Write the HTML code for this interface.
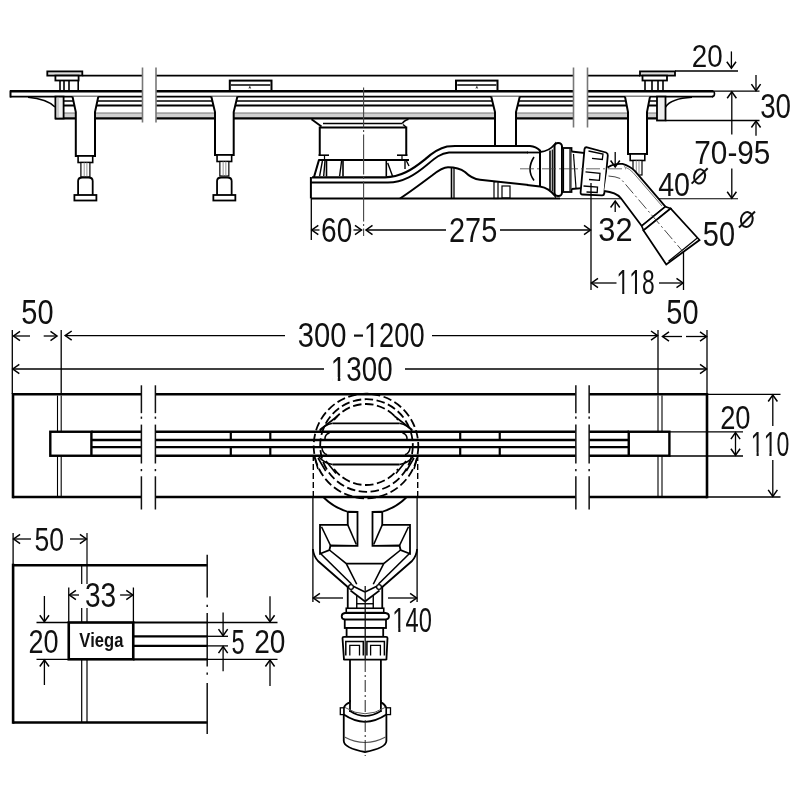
<!DOCTYPE html>
<html><head><meta charset="utf-8"><style>
html,body{margin:0;padding:0;background:#fff;}
svg{display:block;will-change:transform;}
text{font-family:"Liberation Sans",sans-serif;font-kerning:none;}
</style></head><body>
<svg width="800" height="800" viewBox="0 0 800 800">
<rect width="800" height="800" fill="#fff"/>
<rect x="63" y="113" width="79.5" height="4.5" fill="#d0d0d0"/>
<rect x="156" y="113" width="417.5" height="4.5" fill="#d0d0d0"/>
<rect x="587.5" y="113" width="69.5" height="4.5" fill="#d0d0d0"/>
<line x1="82.5" y1="75.6" x2="142.5" y2="75.6" stroke="#000" stroke-width="1.6" />
<line x1="156" y1="75.6" x2="573.5" y2="75.6" stroke="#000" stroke-width="1.6" />
<line x1="587.5" y1="75.6" x2="640" y2="75.6" stroke="#000" stroke-width="1.6" />
<line x1="10" y1="91.3" x2="142.5" y2="91.3" stroke="#000" stroke-width="2.6" />
<line x1="156" y1="91.3" x2="573.5" y2="91.3" stroke="#000" stroke-width="2.6" />
<line x1="587.5" y1="91.3" x2="713" y2="91.3" stroke="#000" stroke-width="2.6" />
<line x1="10" y1="96.6" x2="142.5" y2="96.6" stroke="#000" stroke-width="1.8" />
<line x1="156" y1="96.6" x2="573.5" y2="96.6" stroke="#000" stroke-width="1.8" />
<line x1="587.5" y1="96.6" x2="713" y2="96.6" stroke="#000" stroke-width="1.8" />
<line x1="63" y1="101.1" x2="142.5" y2="101.1" stroke="#000" stroke-width="1.5" />
<line x1="156" y1="101.1" x2="573.5" y2="101.1" stroke="#000" stroke-width="1.5" />
<line x1="587.5" y1="101.1" x2="657" y2="101.1" stroke="#000" stroke-width="1.5" />
<line x1="63" y1="105.5" x2="142.5" y2="105.5" stroke="#000" stroke-width="1.8" />
<line x1="156" y1="105.5" x2="573.5" y2="105.5" stroke="#000" stroke-width="1.8" />
<line x1="587.5" y1="105.5" x2="657" y2="105.5" stroke="#000" stroke-width="1.8" />
<line x1="63" y1="113" x2="142.5" y2="113" stroke="#777" stroke-width="1.2" />
<line x1="156" y1="113" x2="573.5" y2="113" stroke="#777" stroke-width="1.2" />
<line x1="587.5" y1="113" x2="657" y2="113" stroke="#777" stroke-width="1.2" />
<line x1="55" y1="118.4" x2="142.5" y2="118.4" stroke="#000" stroke-width="2.4" />
<line x1="156" y1="118.4" x2="573.5" y2="118.4" stroke="#000" stroke-width="2.4" />
<line x1="587.5" y1="118.4" x2="666" y2="118.4" stroke="#000" stroke-width="2.4" />
<line x1="10.5" y1="90.5" x2="10.5" y2="97.5" stroke="#000" stroke-width="2" />
<line x1="142.5" y1="67.5" x2="142.5" y2="122.5" stroke="#777" stroke-width="1.6" />
<line x1="156" y1="67.5" x2="156" y2="122.5" stroke="#777" stroke-width="1.6" />
<line x1="573.5" y1="67.5" x2="573.5" y2="127.5" stroke="#777" stroke-width="1.6" />
<line x1="587.5" y1="67.5" x2="587.5" y2="127.5" stroke="#777" stroke-width="1.6" />
<path d="M712,91 Q714.5,91 714.5,93.8 Q714.5,96.6 712,96.6" stroke="#000" stroke-width="1.6" fill="none" />
<rect x="47.3" y="71.4" width="35.0" height="4.199999999999989" stroke="#000" stroke-width="1.8" fill="#ddd" />
<rect x="55.4" y="75.6" width="23.199999999999996" height="4.900000000000006" stroke="#000" stroke-width="1.8" fill="#fff" />
<line x1="60" y1="80.5" x2="60" y2="90.5" stroke="#000" stroke-width="1.6" />
<line x1="64" y1="80.5" x2="64" y2="90.5" stroke="#000" stroke-width="1.6" />
<line x1="69" y1="80.5" x2="69" y2="90.5" stroke="#000" stroke-width="1.6" />
<line x1="78.2" y1="80.5" x2="78.2" y2="90.5" stroke="#000" stroke-width="1.6" />
<rect x="640" y="71.4" width="35" height="4.199999999999989" stroke="#000" stroke-width="1.8" fill="#ddd" />
<rect x="642.5" y="75.6" width="24.5" height="4.900000000000006" stroke="#000" stroke-width="1.8" fill="#fff" />
<line x1="645" y1="80.5" x2="645" y2="90.5" stroke="#000" stroke-width="1.6" />
<line x1="652" y1="80.5" x2="652" y2="90.5" stroke="#000" stroke-width="1.6" />
<line x1="658" y1="80.5" x2="658" y2="90.5" stroke="#000" stroke-width="1.6" />
<line x1="663" y1="80.5" x2="663" y2="90.5" stroke="#000" stroke-width="1.6" />
<rect x="229.8" y="80.6" width="41.69999999999999" height="10.400000000000006" stroke="#000" stroke-width="2" fill="#fff" />
<line x1="231" y1="85" x2="270.3" y2="85" stroke="#000" stroke-width="1.5" />
<rect x="456" y="80.6" width="41.5" height="10.400000000000006" stroke="#000" stroke-width="2" fill="#fff" />
<line x1="457.2" y1="85" x2="496.3" y2="85" stroke="#000" stroke-width="1.5" />
<path d="M249,88.5 L249.8,86.5 L250.6,88.5" stroke="#000" stroke-width="0.8" fill="none" />
<path d="M476,88.5 L476.8,86.5 L477.6,88.5" stroke="#000" stroke-width="0.8" fill="none" />
<rect x="55.4" y="96.6" width="8.200000000000003" height="21.900000000000006" stroke="#000" stroke-width="1.8" fill="#eee" />
<line x1="58" y1="97" x2="58" y2="118" stroke="#999" stroke-width="0.8" />
<path d="M28,97.3 Q47,99 55,107" stroke="#000" stroke-width="1.6" fill="none" />
<rect x="657" y="96.6" width="8.5" height="23.900000000000006" stroke="#000" stroke-width="1.8" fill="#eee" />
<path d="M665.5,107 Q671,98.5 692,97.3" stroke="#000" stroke-width="1.6" fill="none" />
<path d="M72.5,96.6 L75.8,112 L75.8,156 L95,156 L95,112 L98.3,96.6" stroke="#000" stroke-width="2" fill="#fff" />
<rect x="78.10000000000001" y="156" width="14.599999999999994" height="6.5" stroke="#000" stroke-width="1.6" fill="#fff" />
<rect x="80.9" y="162.5" width="9.0" height="14.5" stroke="#000" stroke-width="1.2" fill="#fff" />
<line x1="84.2" y1="162.5" x2="84.2" y2="177" stroke="#888" stroke-width="0.9" />
<line x1="86.9" y1="162.5" x2="86.9" y2="177" stroke="#888" stroke-width="0.9" />
<path d="M78.10000000000001,195 L78.10000000000001,181 Q78.10000000000001,177.5 82.4,177.5 L88.4,177.5 Q92.7,177.5 92.7,181 L92.7,195" stroke="#000" stroke-width="1.8" fill="#fff" />
<rect x="74.4" y="195" width="22.0" height="5.5" stroke="#000" stroke-width="1.8" fill="#fff" />
<path d="M211.3,96.6 L215,112 L215,155 L233.7,155 L233.7,112 L237.39999999999998,96.6" stroke="#000" stroke-width="2" fill="#fff" />
<rect x="217.04999999999998" y="155" width="14.600000000000023" height="6.5" stroke="#000" stroke-width="1.6" fill="#fff" />
<rect x="219.85" y="161.5" width="9.0" height="14.5" stroke="#000" stroke-width="1.2" fill="#fff" />
<line x1="223.15" y1="161.5" x2="223.15" y2="176" stroke="#888" stroke-width="0.9" />
<line x1="225.85" y1="161.5" x2="225.85" y2="176" stroke="#888" stroke-width="0.9" />
<path d="M217.04999999999998,195 L217.04999999999998,181 Q217.04999999999998,177.5 221.35,177.5 L227.35,177.5 Q231.65,177.5 231.65,181 L231.65,195" stroke="#000" stroke-width="1.8" fill="#fff" />
<rect x="213.35" y="195" width="22.0" height="5.5" stroke="#000" stroke-width="1.8" fill="#fff" />
<path d="M491.2,96.6 L495,112 L495,146 L516,146 L516,112 L519.8,96.6" stroke="#000" stroke-width="2" fill="#fff" />
<path d="M625,96.6 L628,112 L628,154 L647,154 L647,112 L650,96.6" stroke="#000" stroke-width="2" fill="#fff" />
<rect x="630.2" y="154" width="14.599999999999909" height="6.5" stroke="#000" stroke-width="1.6" fill="#fff" />
<rect x="633.0" y="160.5" width="9.0" height="14.5" stroke="#000" stroke-width="1.2" fill="#fff" />
<line x1="636.3" y1="160.5" x2="636.3" y2="175" stroke="#888" stroke-width="0.9" />
<line x1="639.0" y1="160.5" x2="639.0" y2="175" stroke="#888" stroke-width="0.9" />
<path d="M311.5,119.3 L321.5,126.5" stroke="#000" stroke-width="1.9" fill="none" />
<line x1="323" y1="123.4" x2="402.5" y2="123.4" stroke="#000" stroke-width="1.5" />
<path d="M402.5,123.4 Q403.5,121 408.5,119.3" stroke="#000" stroke-width="1.6" fill="none" />
<path d="M403,124.5 L406,127" stroke="#000" stroke-width="1.5" fill="none" />
<path d="M319.75,155.2 L319.75,127.5 L406.25,127.5 L406.25,155.2" stroke="#000" stroke-width="2" fill="none" />
<line x1="318.5" y1="155.2" x2="329" y2="155.2" stroke="#000" stroke-width="1.6" />
<line x1="397" y1="155.2" x2="407.5" y2="155.2" stroke="#000" stroke-width="1.6" />
<line x1="324.5" y1="155.2" x2="324.5" y2="159" stroke="#000" stroke-width="1.2" />
<line x1="402" y1="155.2" x2="402" y2="159" stroke="#000" stroke-width="1.2" />
<path d="M318.3,159.9 L409,159.9" stroke="#000" stroke-width="2" fill="none" />
<path d="M319,159.9 L314,177" stroke="#000" stroke-width="2" fill="none" />
<line x1="326.5" y1="160.5" x2="326.5" y2="176.5" stroke="#000" stroke-width="1.6" />
<line x1="343" y1="160.5" x2="343" y2="176.5" stroke="#000" stroke-width="1.6" />
<line x1="386.3" y1="160.5" x2="386.3" y2="176.5" stroke="#000" stroke-width="1.6" />
<line x1="405" y1="160.5" x2="405" y2="169" stroke="#000" stroke-width="1.4" />
<line x1="322.4" y1="161" x2="319.6" y2="176" stroke="#000" stroke-width="1.4" />
<line x1="325" y1="161" x2="323.7" y2="176" stroke="#000" stroke-width="1.4" />
<line x1="341.6" y1="161" x2="339.6" y2="176" stroke="#000" stroke-width="1.4" />
<line x1="387.7" y1="163" x2="392.5" y2="176" stroke="#000" stroke-width="1.4" />
<line x1="406.5" y1="161" x2="409" y2="166" stroke="#000" stroke-width="1.4" />
<path d="M312,177.3 L385,177.3 C400,177.3 412,170 425,159.4 C432,153 438,148.5 447,146.5 L455,146 L538,146" stroke="#000" stroke-width="2.2" fill="none" />
<path d="M311,182.5 L388,182.5 C403,182.5 415,175 428,164 C435,158 440,153.5 449,152.5 L538,152.5" stroke="#000" stroke-width="1.8" fill="none" />
<path d="M400,198.5 C410,192 422,183 432,175.5 C439,170 443,167.3 448,167.3 C455,167.3 461,169 465,172 C469,176 473,179 480,179.8 L538,186" stroke="#000" stroke-width="2" fill="none" />
<line x1="451.5" y1="167.3" x2="451.5" y2="198.5" stroke="#000" stroke-width="1.6" />
<line x1="454" y1="167.6" x2="454" y2="198.5" stroke="#000" stroke-width="1.3" />
<rect x="494" y="182" width="4" height="16.5" stroke="#000" stroke-width="1.2" fill="#fff" />
<rect x="502" y="186" width="8" height="12" stroke="#000" stroke-width="1.2" fill="#fff" />
<line x1="310.9" y1="177" x2="310.9" y2="198.5" stroke="#000" stroke-width="2" />
<line x1="310.9" y1="198.5" x2="560" y2="198.5" stroke="#000" stroke-width="2.2" />
<line x1="560" y1="198.7" x2="738" y2="198.7" stroke="#000" stroke-width="1.1" />
<rect x="528" y="144" width="12" height="44" fill="#fff"/>
<path d="M527,146 L530,146 Q536,146.5 540,150.5" stroke="#000" stroke-width="2.2" fill="none" />
<line x1="527" y1="152.5" x2="540" y2="152.5" stroke="#000" stroke-width="1.8" />
<path d="M527,185.1 L540,186.6" stroke="#000" stroke-width="2" fill="none" />
<path d="M534,157 Q526,169.5 534,180.5" stroke="#000" stroke-width="1.6" fill="none" />
<path d="M540,152 Q549,151.5 555,144 L555,196 Q549,188 540,186.5" stroke="#000" stroke-width="1.8" fill="#fff" />
<line x1="540" y1="150" x2="540" y2="187" stroke="#000" stroke-width="2" />
<line x1="550" y1="150.5" x2="550" y2="190" stroke="#000" stroke-width="1.6" />
<line x1="552.3" y1="149.5" x2="552.3" y2="191.5" stroke="#000" stroke-width="1.2" />
<rect x="554.5" y="143" width="7.5" height="53" rx="3.5" stroke="#000" stroke-width="2" fill="#fff"/>
<rect x="562" y="148" width="9.5" height="44" stroke="#000" stroke-width="1.8" fill="#fff" />
<line x1="563.5" y1="148.5" x2="563.5" y2="191.5" stroke="#000" stroke-width="1.2" />
<line x1="570" y1="148.5" x2="570" y2="191.5" stroke="#000" stroke-width="1.2" />
<path d="M571.5,151.5 L585,153 L585,188 L571.5,189" stroke="#000" stroke-width="1.8" fill="#fff" />
<line x1="573.5" y1="154" x2="576" y2="188" stroke="#000" stroke-width="1.2" />
<path d="M587,147.3 L606,152.5 Q608,153.4 607.8,155.5 L604.3,193.5 Q604,195.4 602,195.3 L582.5,194.5 Q580.4,194.4 580.6,192.3 L584.5,149 Q585,147 587,147.3 Z" stroke="#000" stroke-width="1.8" fill="#fff" />
<path d="M588.5,151 L603,154 L602.3,159.5 L592,158.3" stroke="#000" stroke-width="1.3" fill="none" />
<path d="M585.5,171.8 L600,173.4 L599.4,180.4 L589,179.5" stroke="#000" stroke-width="1.3" fill="none" />
<path d="M583.5,186 L597.5,187 L597.2,192.5 L586.5,192" stroke="#000" stroke-width="1.3" fill="none" />
<path d="M607.6,167.4 Q614,163.2 622.5,163.9 Q630,166 634.75,170.9 L665.4,206.75 L641.75,226 L620.75,198 Q616,192.3 604.1,191" stroke="#000" stroke-width="1.8" fill="#fff" />
<path d="M624,166.5 Q630,169 633,172.5 L662,206" stroke="#666" stroke-width="0.9" fill="none" />
<path d="M641.75,226 L665.4,206.75 L670.6,208.5 L643.5,230.4 Z" stroke="#000" stroke-width="1.6" fill="#fff" />
<path d="M643.5,230.4 L670.6,208.5 L699.5,240 L666.25,264.5 Z" stroke="#000" stroke-width="1.8" fill="#fff" />
<line x1="668.5" y1="261.3" x2="697" y2="238.3" stroke="#000" stroke-width="1.2" />
<path d="M608.5,176 Q616,176.5 620.75,178.75 L682,250.5" stroke="#333" stroke-width="0.9" fill="none" stroke-dasharray="12,3,2,3"/>
<line x1="363.6" y1="87.5" x2="363.6" y2="236" stroke="#444" stroke-width="1.1" stroke-dasharray="40,2.5,2,2.5"/>
<line x1="520" y1="168.8" x2="626" y2="168.8" stroke="#444" stroke-width="0.8" stroke-dasharray="14,3,2,3"/>
<line x1="311.3" y1="199" x2="311.3" y2="240" stroke="#000" stroke-width="1.3" />
<line x1="319.5" y1="230" x2="311.8" y2="230" stroke="#000" stroke-width="1.3" />
<path d="M318.30,225.40 L311.8,230 L318.30,234.60" stroke="#000" stroke-width="1.5" fill="none" />
<line x1="353.5" y1="230" x2="361.5" y2="230" stroke="#000" stroke-width="1.3" />
<path d="M355.00,234.60 L361.5,230 L355.00,225.40" stroke="#000" stroke-width="1.5" fill="none" />
<line x1="446" y1="230" x2="366" y2="230" stroke="#000" stroke-width="1.3" />
<path d="M372.50,225.40 L366,230 L372.50,234.60" stroke="#000" stroke-width="1.5" fill="none" />
<line x1="500" y1="230" x2="590.5" y2="230" stroke="#000" stroke-width="1.3" />
<path d="M584.00,234.60 L590.5,230 L584.00,225.40" stroke="#000" stroke-width="1.5" fill="none" />
<g transform="matrix(0.8047,0,0,1,321.10,242.00)"><text x="0" y="0" font-size="34.86" font-weight="normal" fill="#111">60</text></g>
<g transform="matrix(0.8254,0,0,1,449.06,241.50)"><text x="0" y="0" font-size="35.00" font-weight="normal" fill="#111">275</text></g>
<line x1="591" y1="183" x2="591" y2="290" stroke="#000" stroke-width="1.3" />
<line x1="683.5" y1="251" x2="683.5" y2="290" stroke="#000" stroke-width="1.3" />
<line x1="616.5" y1="283" x2="591.5" y2="283" stroke="#000" stroke-width="1.3" />
<path d="M598.00,278.40 L591.5,283 L598.00,287.60" stroke="#000" stroke-width="1.5" fill="none" />
<line x1="659" y1="283" x2="683" y2="283" stroke="#000" stroke-width="1.3" />
<path d="M676.50,287.60 L683,283 L676.50,278.40" stroke="#000" stroke-width="1.5" fill="none" />
<g transform="matrix(0.6438,0,0,1,616.53,294.40)"><text x="0" y="0" font-size="35.43" font-weight="normal" fill="#111">118</text><rect x="1.77" y="-3.54" width="7.05" height="4.96" fill="#fff"/><rect x="12.08" y="-3.54" width="6.87" height="4.96" fill="#fff"/><rect x="21.47" y="-3.54" width="7.05" height="4.96" fill="#fff"/><rect x="31.78" y="-3.54" width="6.87" height="4.96" fill="#fff"/></g>
<line x1="615.2" y1="152" x2="615.2" y2="167" stroke="#000" stroke-width="1.3" />
<path d="M610.60,160.50 L615.2,167 L619.80,160.50" stroke="#000" stroke-width="1.5" fill="none" />
<line x1="615.2" y1="212" x2="615.2" y2="201" stroke="#000" stroke-width="1.3" />
<path d="M619.80,207.50 L615.2,201 L610.60,207.50" stroke="#000" stroke-width="1.5" fill="none" />
<g transform="matrix(0.9092,0,0,1,598.37,241.00)"><text x="0" y="0" font-size="33.86" font-weight="normal" fill="#111">32</text></g>
<g transform="matrix(0.8505,0,0,1,658.18,196.30)"><text x="0" y="0" font-size="33.71" font-weight="normal" fill="#111">40</text></g>
<ellipse cx="699.6" cy="176.4" rx="5.4" ry="7.2" stroke="#111" stroke-width="2" fill="none" transform="rotate(12 699.6 176.4)"/>
<line x1="691.6" y1="183.6" x2="707.7" y2="168.3" stroke="#111" stroke-width="2" />
<g transform="matrix(0.8116,0,0,1,702.84,245.50)"><text x="0" y="0" font-size="35.71" font-weight="normal" fill="#111">50</text></g>
<ellipse cx="746.8" cy="219.5" rx="5.8" ry="7.5" stroke="#111" stroke-width="2" fill="none" transform="rotate(12 746.8 219.5)"/>
<line x1="739" y1="227.5" x2="755" y2="211.5" stroke="#111" stroke-width="2" />
<line x1="731.8" y1="134.6" x2="731.8" y2="91.8" stroke="#000" stroke-width="1.3" />
<path d="M736.40,98.30 L731.8,91.8 L727.20,98.30" stroke="#000" stroke-width="1.5" fill="none" />
<line x1="731.8" y1="168.4" x2="731.8" y2="198.2" stroke="#000" stroke-width="1.3" />
<path d="M727.20,191.70 L731.8,198.2 L736.40,191.70" stroke="#000" stroke-width="1.5" fill="none" />
<g transform="matrix(0.8721,0,0,1,694.31,164.20)"><text x="0" y="0" font-size="34.14" font-weight="normal" fill="#111">70-95</text></g>
<line x1="756" y1="75" x2="756" y2="90.6" stroke="#000" stroke-width="1.3" />
<path d="M751.40,84.10 L756,90.6 L760.60,84.10" stroke="#000" stroke-width="1.5" fill="none" />
<line x1="756" y1="135.7" x2="756" y2="121" stroke="#000" stroke-width="1.3" />
<path d="M760.60,127.50 L756,121 L751.40,127.50" stroke="#000" stroke-width="1.5" fill="none" />
<g transform="matrix(0.7778,0,0,1,760.14,117.50)"><text x="0" y="0" font-size="35.71" font-weight="normal" fill="#111">30</text></g>
<g transform="matrix(0.8650,0,0,1,691.86,67.00)"><text x="0" y="0" font-size="32.14" font-weight="normal" fill="#111">20</text></g>
<line x1="731.4" y1="51.4" x2="731.4" y2="68.2" stroke="#000" stroke-width="1.3" />
<path d="M726.80,61.70 L731.4,68.2 L736.00,61.70" stroke="#000" stroke-width="1.5" fill="none" />
<line x1="675" y1="71" x2="738" y2="71" stroke="#000" stroke-width="1.3" />
<line x1="713" y1="91.2" x2="759.5" y2="91.2" stroke="#000" stroke-width="1.3" />
<line x1="665.5" y1="120.5" x2="759.5" y2="120.5" stroke="#000" stroke-width="1.3" />
<line x1="13" y1="394.3" x2="141.7" y2="394.3" stroke="#000" stroke-width="2.6" />
<line x1="13" y1="497" x2="141.7" y2="497" stroke="#000" stroke-width="2.6" />
<line x1="155.3" y1="394.3" x2="575.6" y2="394.3" stroke="#000" stroke-width="2.6" />
<line x1="155.3" y1="497" x2="575.6" y2="497" stroke="#000" stroke-width="2.6" />
<line x1="589.1" y1="394.3" x2="707" y2="394.3" stroke="#000" stroke-width="2.6" />
<line x1="589.1" y1="497" x2="707" y2="497" stroke="#000" stroke-width="2.6" />
<line x1="13" y1="393.1" x2="13" y2="498.3" stroke="#000" stroke-width="2.6" />
<line x1="707" y1="393.1" x2="707" y2="498.3" stroke="#000" stroke-width="2.6" />
<line x1="57.5" y1="395.5" x2="57.5" y2="496" stroke="#000" stroke-width="1.1" />
<line x1="61.2" y1="395.5" x2="61.2" y2="496" stroke="#000" stroke-width="1.1" />
<line x1="658" y1="395.5" x2="658" y2="496" stroke="#000" stroke-width="1.1" />
<line x1="662" y1="395.5" x2="662" y2="496" stroke="#000" stroke-width="1.1" />
<line x1="91.4" y1="431.75" x2="141.7" y2="431.75" stroke="#000" stroke-width="2.4" />
<line x1="155.3" y1="431.75" x2="575.6" y2="431.75" stroke="#000" stroke-width="2.4" />
<line x1="589.1" y1="431.75" x2="629" y2="431.75" stroke="#000" stroke-width="2.4" />
<line x1="91.4" y1="440.0" x2="141.7" y2="440.0" stroke="#000" stroke-width="2.4" />
<line x1="155.3" y1="440.0" x2="575.6" y2="440.0" stroke="#000" stroke-width="2.4" />
<line x1="589.1" y1="440.0" x2="629" y2="440.0" stroke="#000" stroke-width="2.4" />
<line x1="91.4" y1="447.1" x2="141.7" y2="447.1" stroke="#000" stroke-width="2.4" />
<line x1="155.3" y1="447.1" x2="575.6" y2="447.1" stroke="#000" stroke-width="2.4" />
<line x1="589.1" y1="447.1" x2="629" y2="447.1" stroke="#000" stroke-width="2.4" />
<line x1="91.4" y1="455.75" x2="141.7" y2="455.75" stroke="#000" stroke-width="2.4" />
<line x1="155.3" y1="455.75" x2="575.6" y2="455.75" stroke="#000" stroke-width="2.4" />
<line x1="589.1" y1="455.75" x2="629" y2="455.75" stroke="#000" stroke-width="2.4" />
<line x1="230.8" y1="432.5" x2="230.8" y2="439.5" stroke="#000" stroke-width="2.2" />
<line x1="230.8" y1="447.5" x2="230.8" y2="455" stroke="#000" stroke-width="2.2" />
<line x1="270.3" y1="432.5" x2="270.3" y2="439.5" stroke="#000" stroke-width="2.2" />
<line x1="270.3" y1="447.5" x2="270.3" y2="455" stroke="#000" stroke-width="2.2" />
<line x1="460.2" y1="432.5" x2="460.2" y2="439.5" stroke="#000" stroke-width="2.2" />
<line x1="460.2" y1="447.5" x2="460.2" y2="455" stroke="#000" stroke-width="2.2" />
<line x1="499.75" y1="432.5" x2="499.75" y2="439.5" stroke="#000" stroke-width="2.2" />
<line x1="499.75" y1="447.5" x2="499.75" y2="455" stroke="#000" stroke-width="2.2" />
<rect x="50.3" y="431.75" width="41.10000000000001" height="24.0" stroke="#000" stroke-width="2.4" fill="#fff" />
<rect x="628.75" y="431.75" width="40.64999999999998" height="24.0" stroke="#000" stroke-width="2.4" fill="#fff" />
<line x1="141.4" y1="385.3" x2="141.4" y2="413.2" stroke="#111" stroke-width="1.5" />
<line x1="141.4" y1="416.6" x2="141.4" y2="418.8" stroke="#111" stroke-width="1.5" />
<line x1="141.4" y1="424.6" x2="141.4" y2="463.5" stroke="#111" stroke-width="1.5" />
<line x1="141.4" y1="469" x2="141.4" y2="471.2" stroke="#111" stroke-width="1.5" />
<line x1="141.4" y1="476.3" x2="141.4" y2="509.5" stroke="#111" stroke-width="1.5" />
<line x1="155.4" y1="385.3" x2="155.4" y2="413.2" stroke="#111" stroke-width="1.5" />
<line x1="155.4" y1="416.6" x2="155.4" y2="418.8" stroke="#111" stroke-width="1.5" />
<line x1="155.4" y1="424.6" x2="155.4" y2="463.5" stroke="#111" stroke-width="1.5" />
<line x1="155.4" y1="469" x2="155.4" y2="471.2" stroke="#111" stroke-width="1.5" />
<line x1="155.4" y1="476.3" x2="155.4" y2="509.5" stroke="#111" stroke-width="1.5" />
<line x1="575.85" y1="385.3" x2="575.85" y2="413.2" stroke="#111" stroke-width="1.5" />
<line x1="575.85" y1="416.6" x2="575.85" y2="418.8" stroke="#111" stroke-width="1.5" />
<line x1="575.85" y1="424.6" x2="575.85" y2="463.5" stroke="#111" stroke-width="1.5" />
<line x1="575.85" y1="469" x2="575.85" y2="471.2" stroke="#111" stroke-width="1.5" />
<line x1="575.85" y1="476.3" x2="575.85" y2="509.5" stroke="#111" stroke-width="1.5" />
<line x1="589.15" y1="385.3" x2="589.15" y2="413.2" stroke="#111" stroke-width="1.5" />
<line x1="589.15" y1="416.6" x2="589.15" y2="418.8" stroke="#111" stroke-width="1.5" />
<line x1="589.15" y1="424.6" x2="589.15" y2="463.5" stroke="#111" stroke-width="1.5" />
<line x1="589.15" y1="469" x2="589.15" y2="471.2" stroke="#111" stroke-width="1.5" />
<line x1="589.15" y1="476.3" x2="589.15" y2="509.5" stroke="#111" stroke-width="1.5" />
<circle cx="366" cy="446" r="52.3" stroke="#000" stroke-width="1.8" fill="none" stroke-dasharray="8.5,3.5"/>
<circle cx="366.5" cy="445.5" r="46.3" stroke="#000" stroke-width="1.8" fill="none" stroke-dasharray="8.5,3.5"/>
<path d="M334,420 A40,40 0 0 1 398,420" stroke="#000" stroke-width="1.8" fill="none" stroke-dasharray="8.5,3.5"/>
<path d="M334,469 A40,40 0 0 0 398,469" stroke="#000" stroke-width="1.8" fill="none" stroke-dasharray="8.5,3.5"/>
<path d="M332.5,423.3 L399.5,423.3" stroke="#000" stroke-width="1.8" fill="none" />
<path d="M332.5,464.5 L399.5,464.5" stroke="#000" stroke-width="1.8" fill="none" />
<path d="M332.5,423.3 Q324,425 320,431" stroke="#000" stroke-width="1.6" fill="none" />
<path d="M332.5,464.5 Q324,463 319,457" stroke="#000" stroke-width="1.6" fill="none" />
<path d="M399.5,423.3 Q408,425 412,431" stroke="#000" stroke-width="1.6" fill="none" />
<path d="M399.5,464.5 Q408,463 413,457" stroke="#000" stroke-width="1.6" fill="none" />
<path d="M319.7,430 L337.7,416" stroke="#000" stroke-width="1.6" fill="none" />
<path d="M412.3,430 L394.3,416" stroke="#000" stroke-width="1.6" fill="none" />
<path d="M314.5,457 L318,469 M318,458 L325.7,471 M326,461 L336,473.5" stroke="#000" stroke-width="1.6" fill="none" />
<path d="M417.5,457 L414,469 M414,458 L406.3,471 M406,461 L396,473.5" stroke="#000" stroke-width="1.6" fill="none" />
<path d="M329.5,433 Q324.5,434.5 325,439.5" stroke="#000" stroke-width="1.5" fill="none" />
<path d="M322,448 Q322.5,453 327,454.8" stroke="#000" stroke-width="1.5" fill="none" />
<path d="M402.5,433 Q407.5,434.5 407,439.5" stroke="#000" stroke-width="1.5" fill="none" />
<path d="M410,448 Q409.5,453 405,454.8" stroke="#000" stroke-width="1.5" fill="none" />
<line x1="313.3" y1="455" x2="313.3" y2="497" stroke="#000" stroke-width="1.4" stroke-dasharray="6,3"/>
<line x1="417.7" y1="455" x2="417.7" y2="497" stroke="#000" stroke-width="1.4" stroke-dasharray="6,3"/>
<line x1="12.3" y1="330" x2="12.3" y2="394" stroke="#000" stroke-width="1.3" />
<line x1="61.2" y1="330" x2="61.2" y2="394" stroke="#000" stroke-width="1.3" />
<line x1="658" y1="330" x2="658" y2="394" stroke="#000" stroke-width="1.3" />
<line x1="707" y1="330" x2="707" y2="394" stroke="#000" stroke-width="1.3" />
<line x1="30" y1="336" x2="13.5" y2="336" stroke="#000" stroke-width="1.3" />
<path d="M20.00,331.40 L13.5,336 L20.00,340.60" stroke="#000" stroke-width="1.5" fill="none" />
<line x1="43.7" y1="336" x2="57" y2="336" stroke="#000" stroke-width="1.3" />
<path d="M50.50,340.60 L57,336 L50.50,331.40" stroke="#000" stroke-width="1.5" fill="none" />
<g transform="matrix(0.8215,0,0,1,21.34,324.40)"><text x="0" y="0" font-size="35.29" font-weight="normal" fill="#111">50</text></g>
<line x1="285" y1="335.6" x2="65.2" y2="335.6" stroke="#000" stroke-width="1.3" />
<path d="M71.70,331.00 L65.2,335.6 L71.70,340.20" stroke="#000" stroke-width="1.5" fill="none" />
<line x1="432" y1="335.6" x2="657.5" y2="335.6" stroke="#000" stroke-width="1.3" />
<path d="M651.00,340.20 L657.5,335.6 L651.00,331.00" stroke="#000" stroke-width="1.5" fill="none" />
<g transform="matrix(0.8171,0,0,1,297.73,346.90)"><text x="0" y="0" font-size="35.71" font-weight="normal" fill="#111">300</text></g>
<line x1="354" y1="335.6" x2="363" y2="335.6" stroke="#111" stroke-width="2.2" />
<g transform="matrix(0.7792,0,0,1,363.91,347.00)"><text x="0" y="0" font-size="35.00" font-weight="normal" fill="#111">1200</text><rect x="1.75" y="-3.50" width="6.97" height="4.90" fill="#fff"/><rect x="11.94" y="-3.50" width="6.79" height="4.90" fill="#fff"/></g>
<line x1="324" y1="369" x2="12.8" y2="369" stroke="#000" stroke-width="1.3" />
<path d="M19.30,364.40 L12.8,369 L19.30,373.60" stroke="#000" stroke-width="1.5" fill="none" />
<line x1="405" y1="369" x2="706.5" y2="369" stroke="#000" stroke-width="1.3" />
<path d="M700.00,373.60 L706.5,369 L700.00,364.40" stroke="#000" stroke-width="1.5" fill="none" />
<g transform="matrix(0.8094,0,0,1,330.86,380.50)"><text x="0" y="0" font-size="34.29" font-weight="normal" fill="#111">1300</text><rect x="1.71" y="-3.43" width="6.82" height="4.80" fill="#fff"/><rect x="11.69" y="-3.43" width="6.65" height="4.80" fill="#fff"/></g>
<line x1="682" y1="336.5" x2="662.5" y2="336.5" stroke="#000" stroke-width="1.3" />
<path d="M669.00,331.90 L662.5,336.5 L669.00,341.10" stroke="#000" stroke-width="1.5" fill="none" />
<line x1="686" y1="336.5" x2="706.5" y2="336.5" stroke="#000" stroke-width="1.3" />
<path d="M700.00,341.10 L706.5,336.5 L700.00,331.90" stroke="#000" stroke-width="1.5" fill="none" />
<g transform="matrix(0.8215,0,0,1,666.34,324.40)"><text x="0" y="0" font-size="35.29" font-weight="normal" fill="#111">50</text></g>
<line x1="669.4" y1="431.9" x2="743" y2="431.9" stroke="#000" stroke-width="1.3" />
<line x1="669.4" y1="456" x2="743" y2="456" stroke="#000" stroke-width="1.3" />
<line x1="707" y1="394.4" x2="780.5" y2="394.4" stroke="#000" stroke-width="1.3" />
<line x1="707" y1="497" x2="780.5" y2="497" stroke="#000" stroke-width="1.3" />
<line x1="735.5" y1="444" x2="735.5" y2="432.6" stroke="#000" stroke-width="1.3" />
<path d="M740.10,439.10 L735.5,432.6 L730.90,439.10" stroke="#000" stroke-width="1.5" fill="none" />
<line x1="735.5" y1="444" x2="735.5" y2="455.3" stroke="#000" stroke-width="1.3" />
<path d="M730.90,448.80 L735.5,455.3 L740.10,448.80" stroke="#000" stroke-width="1.5" fill="none" />
<g transform="matrix(0.8137,0,0,1,720.13,429.00)"><text x="0" y="0" font-size="33.57" font-weight="normal" fill="#111">20</text></g>
<line x1="772.8" y1="426" x2="772.8" y2="395" stroke="#000" stroke-width="1.3" />
<path d="M777.40,401.50 L772.8,395 L768.20,401.50" stroke="#000" stroke-width="1.5" fill="none" />
<line x1="772.8" y1="460" x2="772.8" y2="496.4" stroke="#000" stroke-width="1.3" />
<path d="M768.20,489.90 L772.8,496.4 L777.40,489.90" stroke="#000" stroke-width="1.5" fill="none" />
<g transform="matrix(0.6608,0,0,1,750.80,456.00)"><text x="0" y="0" font-size="35.00" font-weight="normal" fill="#111">110</text><rect x="1.75" y="-3.50" width="6.97" height="4.90" fill="#fff"/><rect x="11.94" y="-3.50" width="6.79" height="4.90" fill="#fff"/><rect x="21.21" y="-3.50" width="6.97" height="4.90" fill="#fff"/><rect x="31.39" y="-3.50" width="6.79" height="4.90" fill="#fff"/></g>
<path d="M323.7,497.5 A58,58 0 0 0 347.75,511.75" stroke="#000" stroke-width="1.8" fill="none" />
<path d="M382.25,511.75 A58,58 0 0 0 406.3,497.5" stroke="#000" stroke-width="1.8" fill="none" />
<line x1="312.9" y1="497" x2="312.9" y2="602" stroke="#000" stroke-width="1.3" />
<line x1="417.1" y1="497" x2="417.1" y2="602" stroke="#000" stroke-width="1.3" />
<path d="M347.75,511.75 L347.75,524.9 320,524.9 320,553.75 329.4,550 330.5,545.5 357.5,545.9 357.5,512 L347.75,511.75 " stroke="#000" stroke-width="1.8" fill="none" />
<path d="M382.25,511.75 L382.25,524.9 410,524.9 410,553.75 400.6,550 399.5,545.5 372.5,545.9 372.5,512 L382.25,511.75 " stroke="#000" stroke-width="1.8" fill="none" />
<path d="M321.5,526.75 L330.5,545.5 " stroke="#000" stroke-width="1.6" fill="none" />
<path d="M408.5,526.75 L399.5,545.5 " stroke="#000" stroke-width="1.6" fill="none" />
<path d="M347.75,524.9 L356.3,544.5 " stroke="#000" stroke-width="1.6" fill="none" />
<path d="M382.25,524.9 L373.7,544.5 " stroke="#000" stroke-width="1.6" fill="none" />
<path d="M312.9,549 Q313.5,556 318,561 L347.75,587 " stroke="#000" stroke-width="1.8" fill="none" />
<path d="M417.1,549 Q416.5,556 412,561 L382.25,587 " stroke="#000" stroke-width="1.8" fill="none" />
<path d="M320.5,553.5 L351.5,584 " stroke="#000" stroke-width="1.6" fill="none" />
<path d="M409.5,553.5 L378.5,584 " stroke="#000" stroke-width="1.6" fill="none" />
<path d="M329.4,550 L346.25,563.6 356.75,584.25 " stroke="#000" stroke-width="1.6" fill="none" />
<path d="M400.6,550 L383.75,563.6 373.25,584.25 " stroke="#000" stroke-width="1.6" fill="none" />
<line x1="346.25" y1="563.6" x2="383.75" y2="563.6" stroke="#000" stroke-width="1.8" />
<path d="M353.75,586.5 L365,592 " stroke="#000" stroke-width="1.6" fill="none" />
<path d="M376.25,586.5 L365,592 " stroke="#000" stroke-width="1.6" fill="none" />
<path d="M350.5,590.5 L365,601.5 " stroke="#000" stroke-width="1.6" fill="none" />
<path d="M379.5,590.5 L365,601.5 " stroke="#000" stroke-width="1.6" fill="none" />
<circle cx="351" cy="587" r="2.4" stroke="#000" stroke-width="1.3" fill="#fff" />
<circle cx="379" cy="587" r="2.4" stroke="#000" stroke-width="1.3" fill="#fff" />
<line x1="347.75" y1="587" x2="347.75" y2="608.5" stroke="#000" stroke-width="1.8" />
<line x1="382.25" y1="587" x2="382.25" y2="608.5" stroke="#000" stroke-width="1.8" />
<line x1="356.75" y1="596" x2="356.75" y2="608.5" stroke="#000" stroke-width="1.4" />
<line x1="373.25" y1="596" x2="373.25" y2="608.5" stroke="#000" stroke-width="1.4" />
<line x1="356.75" y1="603.75" x2="373.25" y2="603.75" stroke="#000" stroke-width="1.4" />
<line x1="343" y1="598" x2="313.4" y2="598" stroke="#000" stroke-width="1.3" />
<path d="M319.90,593.40 L313.4,598 L319.90,602.60" stroke="#000" stroke-width="1.5" fill="none" />
<line x1="388" y1="598" x2="416.6" y2="598" stroke="#000" stroke-width="1.3" />
<path d="M410.10,602.60 L416.6,598 L410.10,593.40" stroke="#000" stroke-width="1.5" fill="none" />
<g transform="matrix(0.6888,0,0,1,392.35,632.00)"><text x="0" y="0" font-size="34.43" font-weight="normal" fill="#111">140</text><rect x="1.72" y="-3.44" width="6.85" height="4.82" fill="#fff"/><rect x="11.74" y="-3.44" width="6.68" height="4.82" fill="#fff"/></g>
<rect x="346.25" y="608.25" width="37.5" height="4.350000000000023" stroke="#000" stroke-width="1.6" fill="#fff" />
<path d="M345,613 L385.5,613 Q389,613.5 389,616.3 Q389,619.3 385.5,619.6 L345,619.6 Q341.7,619.3 341.7,616.3 Q341.7,613.5 345,613 Z" stroke="#000" stroke-width="1.8" fill="#fff" />
<rect x="344.75" y="619.6" width="41.25" height="8.399999999999977" stroke="#000" stroke-width="1.8" fill="#fff" />
<rect x="346.6" y="628" width="36.599999999999966" height="8.799999999999955" stroke="#000" stroke-width="1.8" fill="#fff" />
<path d="M344,660 L342.5,638 Q342.5,636.8 344,636.8 L386,636.8 Q387.5,636.8 387.5,638 L386.4,660" stroke="#000" stroke-width="1.8" fill="#fff" />
<path d="M345.8,655.5 L345.8,641.6 L363.3,641.6 L363.3,655.5" stroke="#000" stroke-width="1.5" fill="none" />
<path d="M349.8,655.5 L349.8,645.3 L359.5,645.3 L359.5,655.5" stroke="#000" stroke-width="1.3" fill="none" />
<path d="M366.9,655.5 L366.9,641.6 L384.4,641.6 L384.4,655.5" stroke="#000" stroke-width="1.5" fill="none" />
<path d="M370.6,655.5 L370.6,645.3 L380.4,645.3 L380.4,655.5" stroke="#000" stroke-width="1.3" fill="none" />
<line x1="343.5" y1="659.6" x2="386.6" y2="659.6" stroke="#000" stroke-width="1.8" />
<line x1="350" y1="659.6" x2="350" y2="712" stroke="#000" stroke-width="1.8" />
<line x1="380.9" y1="659.6" x2="380.9" y2="712" stroke="#000" stroke-width="1.8" />
<path d="M350,702.3 Q345,704 343.75,708 L343.75,741 Q344,748 365,752 Q386,748 386.4,741 L386.4,708 Q385,704 380.9,702.3" stroke="#000" stroke-width="1.8" fill="#fff" />
<line x1="350" y1="700" x2="350" y2="712" stroke="#000" stroke-width="1.8" />
<line x1="380.9" y1="700" x2="380.9" y2="712" stroke="#000" stroke-width="1.8" />
<path d="M350,711 Q365,721 380.9,711" stroke="#000" stroke-width="1.6" fill="none" />
<path d="M345,707.5 Q365,720 385,707.5" stroke="#555" stroke-width="1.0" fill="none" />
<path d="M343.75,714.6 Q365,729 386.4,714.6" stroke="#000" stroke-width="1.8" fill="none" />
<path d="M344.5,737 Q365,748 385.6,737" stroke="#555" stroke-width="1.2" fill="none" />
<rect x="340.3" y="707.8" width="3.4499999999999886" height="6.800000000000068" stroke="#000" stroke-width="1.3" fill="#fff" />
<rect x="386.4" y="707.8" width="4.100000000000023" height="6.800000000000068" stroke="#000" stroke-width="1.3" fill="#fff" />
<line x1="365.2" y1="586" x2="365.2" y2="660" stroke="#111" stroke-width="1.3" />
<line x1="365.2" y1="660" x2="365.2" y2="756" stroke="#222" stroke-width="1.0" stroke-dasharray="12,3,2,3"/>
<line x1="13.1" y1="565.25" x2="207.4" y2="565.25" stroke="#000" stroke-width="2.6" />
<line x1="13.1" y1="722.5" x2="207.4" y2="722.5" stroke="#000" stroke-width="2.6" />
<line x1="13.1" y1="563.7" x2="13.1" y2="723.8" stroke="#000" stroke-width="2.6" />
<line x1="207.2" y1="554.75" x2="207.2" y2="597.5" stroke="#111" stroke-width="1.5" />
<line x1="207.2" y1="604.8" x2="207.2" y2="607" stroke="#111" stroke-width="1.5" />
<line x1="207.2" y1="613" x2="207.2" y2="666.4" stroke="#111" stroke-width="1.5" />
<line x1="207.2" y1="672.5" x2="207.2" y2="674.7" stroke="#111" stroke-width="1.5" />
<line x1="207.2" y1="683" x2="207.2" y2="734" stroke="#111" stroke-width="1.5" />
<line x1="81.7" y1="566" x2="81.7" y2="722" stroke="#000" stroke-width="1.2" />
<line x1="87" y1="533" x2="87" y2="722" stroke="#000" stroke-width="1.2" />
<line x1="13.1" y1="533" x2="13.1" y2="565" stroke="#000" stroke-width="1.3" />
<line x1="31" y1="539" x2="13.6" y2="539" stroke="#000" stroke-width="1.3" />
<path d="M20.10,534.40 L13.6,539 L20.10,543.60" stroke="#000" stroke-width="1.5" fill="none" />
<line x1="70" y1="539" x2="86.4" y2="539" stroke="#000" stroke-width="1.3" />
<path d="M79.90,543.60 L86.4,539 L79.90,534.40" stroke="#000" stroke-width="1.5" fill="none" />
<g transform="matrix(0.8052,0,0,1,34.54,550.60)"><text x="0" y="0" font-size="33.00" font-weight="normal" fill="#111">50</text></g>
<rect x="68.75" y="622.5" width="64.5" height="36.799999999999955" stroke="#000" stroke-width="2.6" fill="#fff" />
<g transform="matrix(0.8432,0,0,1,79.17,647.25)"><text x="0" y="0" font-size="19.66" font-weight="bold" fill="#111">Viega</text></g>
<line x1="133.1" y1="622.5" x2="207.4" y2="622.5" stroke="#000" stroke-width="2.2" />
<line x1="133.1" y1="636.3" x2="207.4" y2="636.3" stroke="#000" stroke-width="2.2" />
<line x1="133.1" y1="645.9" x2="207.4" y2="645.9" stroke="#000" stroke-width="2.2" />
<line x1="133.1" y1="659.3" x2="207.4" y2="659.3" stroke="#000" stroke-width="2.2" />
<line x1="207.4" y1="622.5" x2="277.5" y2="622.5" stroke="#000" stroke-width="1.3" />
<line x1="207.4" y1="659.3" x2="277.5" y2="659.3" stroke="#000" stroke-width="1.3" />
<line x1="207.4" y1="636.3" x2="228" y2="636.3" stroke="#000" stroke-width="1.3" />
<line x1="207.4" y1="645.9" x2="228" y2="645.9" stroke="#000" stroke-width="1.3" />
<line x1="68.75" y1="587.5" x2="68.75" y2="622" stroke="#000" stroke-width="1.3" />
<line x1="133.4" y1="587.5" x2="133.4" y2="622" stroke="#000" stroke-width="1.3" />
<line x1="83" y1="595" x2="69.4" y2="595" stroke="#000" stroke-width="1.3" />
<path d="M75.90,590.40 L69.4,595 L75.90,599.60" stroke="#000" stroke-width="1.5" fill="none" />
<line x1="120.1" y1="595" x2="132.8" y2="595" stroke="#000" stroke-width="1.3" />
<path d="M126.30,599.60 L132.8,595 L126.30,590.40" stroke="#000" stroke-width="1.5" fill="none" />
<rect x="79" y="584" width="38" height="24" fill="#fff"/>
<g transform="matrix(0.7794,0,0,1,84.88,607.30)"><text x="0" y="0" font-size="36.00" font-weight="normal" fill="#111">33</text></g>
<line x1="36.5" y1="622.5" x2="68.75" y2="622.5" stroke="#000" stroke-width="1.3" />
<line x1="36.5" y1="659.3" x2="68.75" y2="659.3" stroke="#000" stroke-width="1.3" />
<line x1="44.4" y1="596" x2="44.4" y2="621.8" stroke="#000" stroke-width="1.3" />
<path d="M39.80,615.30 L44.4,621.8 L49.00,615.30" stroke="#000" stroke-width="1.5" fill="none" />
<line x1="44.4" y1="685" x2="44.4" y2="660" stroke="#000" stroke-width="1.3" />
<path d="M49.00,666.50 L44.4,660 L39.80,666.50" stroke="#000" stroke-width="1.5" fill="none" />
<g transform="matrix(0.8151,0,0,1,28.40,652.50)"><text x="0" y="0" font-size="33.21" font-weight="normal" fill="#111">20</text></g>
<line x1="223.1" y1="612.5" x2="223.1" y2="635.6" stroke="#000" stroke-width="1.3" />
<path d="M218.50,629.10 L223.1,635.6 L227.70,629.10" stroke="#000" stroke-width="1.5" fill="none" />
<line x1="223.1" y1="671.2" x2="223.1" y2="646.6" stroke="#000" stroke-width="1.3" />
<path d="M227.70,653.10 L223.1,646.6 L218.50,653.10" stroke="#000" stroke-width="1.5" fill="none" />
<g transform="matrix(0.6809,0,0,1,231.55,653.75)"><text x="0" y="0" font-size="34.78" font-weight="normal" fill="#111">5</text></g>
<line x1="270" y1="596.2" x2="270" y2="621.8" stroke="#000" stroke-width="1.3" />
<path d="M265.40,615.30 L270,621.8 L274.60,615.30" stroke="#000" stroke-width="1.5" fill="none" />
<line x1="270" y1="686" x2="270" y2="660" stroke="#000" stroke-width="1.3" />
<path d="M274.60,666.50 L270,660 L265.40,666.50" stroke="#000" stroke-width="1.5" fill="none" />
<g transform="matrix(0.8423,0,0,1,254.20,653.10)"><text x="0" y="0" font-size="33.36" font-weight="normal" fill="#111">20</text></g>
</svg>
</body></html>
